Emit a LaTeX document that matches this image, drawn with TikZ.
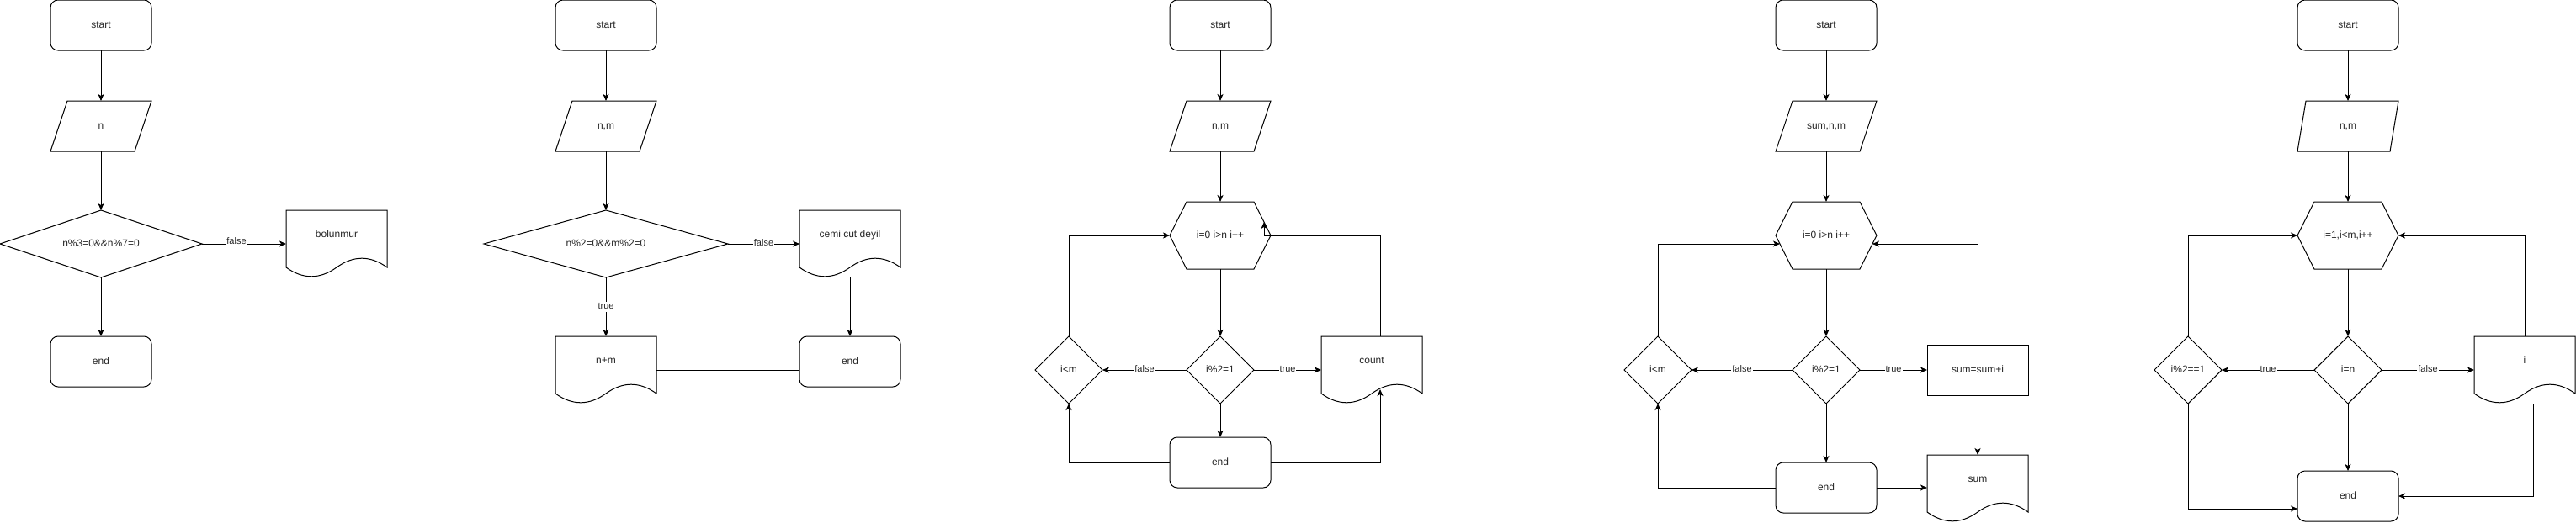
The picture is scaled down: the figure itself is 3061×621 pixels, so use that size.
\documentclass[tikz,border=0pt]{standalone}
\usepackage{fontspec}
\setmainfont{Liberation Sans}
\usetikzlibrary{arrows.meta,calc,shapes.geometric}

\newcommand\paraout[2]{%
  \draw[shapeline] (#1.south west) -- ($(#1.north west)+(#2,0)$) -- (#1.north east) -- ($(#1.south east)+(-#2,0)$) -- cycle;}
\newcommand\hexout[1]{%
  \draw[shapeline] (#1.west) -- ($(#1.north west)+(20,0)$) -- ($(#1.north east)+(-20,0)$) -- (#1.east) -- ($(#1.south east)+(-20,0)$) -- ($(#1.south west)+(20,0)$) -- cycle;}
\newcommand\docout[1]{%
  \draw[shapeline] (#1.north west) -- (#1.north east) -- ($(#1.north west)+(120,68)$)
    .. controls ($(#1.north west)+(100,53.6)$) and ($(#1.north west)+(80,53.6)$) .. ($(#1.north west)+(60,68)$)
    .. controls ($(#1.north west)+(40,82.4)$) and ($(#1.north west)+(20,82.4)$) .. ($(#1.north west)+(0,68)$) -- cycle;}

\begin{document}
\begin{tikzpicture}[x=1pt,y=-1pt,line width=1pt,
  every node/.style={font=\fontsize{12pt}{14pt}\selectfont, text=black!85, outer sep=0pt, inner sep=2pt},
  shapeline/.style={draw=black, line width=1pt},
  term/.style={draw, rectangle, rounded corners=9pt, minimum width=120pt, minimum height=60pt, text height=8.5pt, text depth=2.5pt},
  procbox/.style={draw, rectangle, minimum width=120pt, minimum height=60pt, text height=8.5pt, text depth=2.5pt},
  blank/.style={rectangle, draw=none, minimum width=120pt, minimum height=#1, text height=8.5pt, text depth=2.5pt},
  blank/.default=60pt,
  docbox/.style={rectangle, draw=none, minimum width=120pt, minimum height=80pt, text height=9pt, text depth=24pt},
  dec/.style={draw, diamond, inner sep=0pt, minimum height=80pt, text height=8.5pt, text depth=2.5pt},
  lbl/.style={font=\fontsize{11pt}{13pt}\selectfont, fill=white, inner sep=1pt, text height=7.5pt, text depth=2pt},
  arr/.style={-{Stealth[length=8pt,width=7pt,inset=2pt]}}
]
\useasboundingbox (0,0) rectangle (3061,621);

% ---------- chart 1 ----------
\node[term] (s1) at (120,30) {start};
\node[blank] (in1) at (120,150) {n};
\node[dec, minimum width=240pt, aspect=3] (c1) at (120,290) {n\%3=0\&\&n\%7=0};
\node[docbox] (d1) at (400,290) {bolunmur};
\node[term] (e1) at (120,430) {end};
\paraout{in1}{20}
\docout{d1}
\draw[arr] (s1.south) -- (in1.north);
\draw[arr] (in1.south) -- (c1.north);
\draw[arr] (c1.south) -- (e1.north);
\draw[arr] (c1.east) -- node[lbl, pos=0.41, yshift=2pt] {false} (d1.west);

% ---------- chart 2 ----------
\node[term] (s2) at (720,30) {start};
\node[blank] (in2) at (720,150) {n,m};
\node[dec, minimum width=290pt, aspect=3.6] (c2) at (720,290) {n\%2=0\&\&m\%2=0};
\node[docbox] (d2) at (1010,290) {cemi cut deyil};
\node[docbox] (p2) at (720,440) {n+m};
\node[term] (e2) at (1010,430) {end};
\paraout{in2}{20}
\docout{d2}
\docout{p2}
\draw[arr] (s2.south) -- (in2.north);
\draw[arr] (in2.south) -- (c2.north);
\draw[arr] (c2.east) -- node[lbl] {false} (d2.west);
\draw[arr] (c2.south) -- node[lbl] {true} (p2.north);
\draw[arr] (d2.south) -- (e2.north);
\draw (p2.east) -- (p2.east -| e2.west);

% ---------- chart 3 ----------
\node[term] (s3) at (1450,30) {start};
\node[blank] (in3) at (1450,150) {n,m};
\node[blank=80pt] (h3) at (1450,280) {i=0 i>n i++};
\node[dec, minimum width=80pt, aspect=1] (c3) at (1450,440) {i\%2=1};
\node[dec, minimum width=80pt, aspect=1] (l3) at (1270,440) {i<m};
\node[docbox] (d3) at (1630,440) {count};
\node[term] (e3) at (1450,550) {end};
\paraout{in3}{20}
\hexout{h3}
\docout{d3}
\coordinate (d3n) at ($(d3.north)+(10,0)$);
\coordinate (h3k) at ($(h3.east)+(-8,0)$);
\coordinate (h3t) at ($(h3.east)+(-8,-16)$);
\coordinate (d3w) at ($(d3.north west)+(70,63)$);
\draw[arr] (s3.south) -- (in3.north);
\draw[arr] (in3.south) -- (h3.north);
\draw[arr] (h3.south) -- (c3.north);
\draw[arr] (c3.west) -- node[lbl] {false} (l3.east);
\draw[arr] (c3.east) -- node[lbl] {true} (d3.west);
\draw[arr] (c3.south) -- (e3.north);
\draw[arr] (l3.north) |- (h3.west);
\draw[arr] (d3n) |- (h3k) -- (h3t);
\draw[arr] (e3.west) -| (l3.south);
\draw[arr] (e3.east) -| (d3w);

% ---------- chart 4 ----------
\node[term] (s4) at (2170,30) {start};
\node[blank] (in4) at (2170,150) {sum,n,m};
\node[blank=80pt] (h4) at (2170,280) {i=0 i>n i++};
\node[dec, minimum width=80pt, aspect=1] (c4) at (2170,440) {i\%2=1};
\node[dec, minimum width=80pt, aspect=1] (l4) at (1970,440) {i<m};
\node[procbox] (r4) at (2350,440) {sum=sum+i};
\node[docbox] (d4) at (2350,581) {sum};
\node[term] (e4) at (2170,580) {end};
\paraout{in4}{20}
\hexout{h4}
\docout{d4}
\coordinate (hl4) at ($(h4.west)+(5,10)$);
\coordinate (hr4) at ($(h4.east)+(-5,10)$);
\draw[arr] (s4.south) -- (in4.north);
\draw[arr] (in4.south) -- (h4.north);
\draw[arr] (h4.south) -- (c4.north);
\draw[arr] (c4.west) -- node[lbl] {false} (l4.east);
\draw[arr] (c4.east) -- node[lbl] {true} (r4.west);
\draw[arr] (c4.south) -- (e4.north);
\draw[arr] (r4.south) -- (d4.north);
\draw[arr] (l4.north) |- (hl4);
\draw[arr] (r4.north) |- (hr4);
\draw[arr] (e4.west) -| (l4.south);
\draw[arr] (e4.east) -- (e4.east -| d4.west);

% ---------- chart 5 ----------
\node[term] (s5) at (2790,30) {start};
\node[blank] (in5) at (2790,150) {n,m};
\node[blank=80pt] (h5) at (2790,280) {i=1,i<m,i++};
\node[dec, minimum width=80pt, aspect=1] (c5) at (2790,440) {i=n};
\node[dec, minimum width=80pt, aspect=1] (l5) at (2600,440) {i\%2==1};
\node[docbox] (d5) at (3000,440) {i};
\node[term] (e5) at (2790,590) {end};
\paraout{in5}{10}
\hexout{h5}
\docout{d5}
\coordinate (e5w) at ($(e5.west)+(0,15)$);
\coordinate (d5b) at ($(d5.south)+(10,0)$);
\draw[arr] (s5.south) -- (in5.north);
\draw[arr] (in5.south) -- (h5.north);
\draw[arr] (h5.south) -- (c5.north);
\draw[arr] (c5.west) -- node[lbl] {true} (l5.east);
\draw[arr] (c5.east) -- node[lbl] {false} (d5.west);
\draw[arr] (c5.south) -- (e5.north);
\draw[arr] (l5.north) |- (h5.west);
\draw[arr] (d5.north) |- (h5.east);
\draw[arr] (l5.south) |- (e5w);
\draw[arr] (d5b) |- (e5.east);
\end{tikzpicture}
\end{document}
